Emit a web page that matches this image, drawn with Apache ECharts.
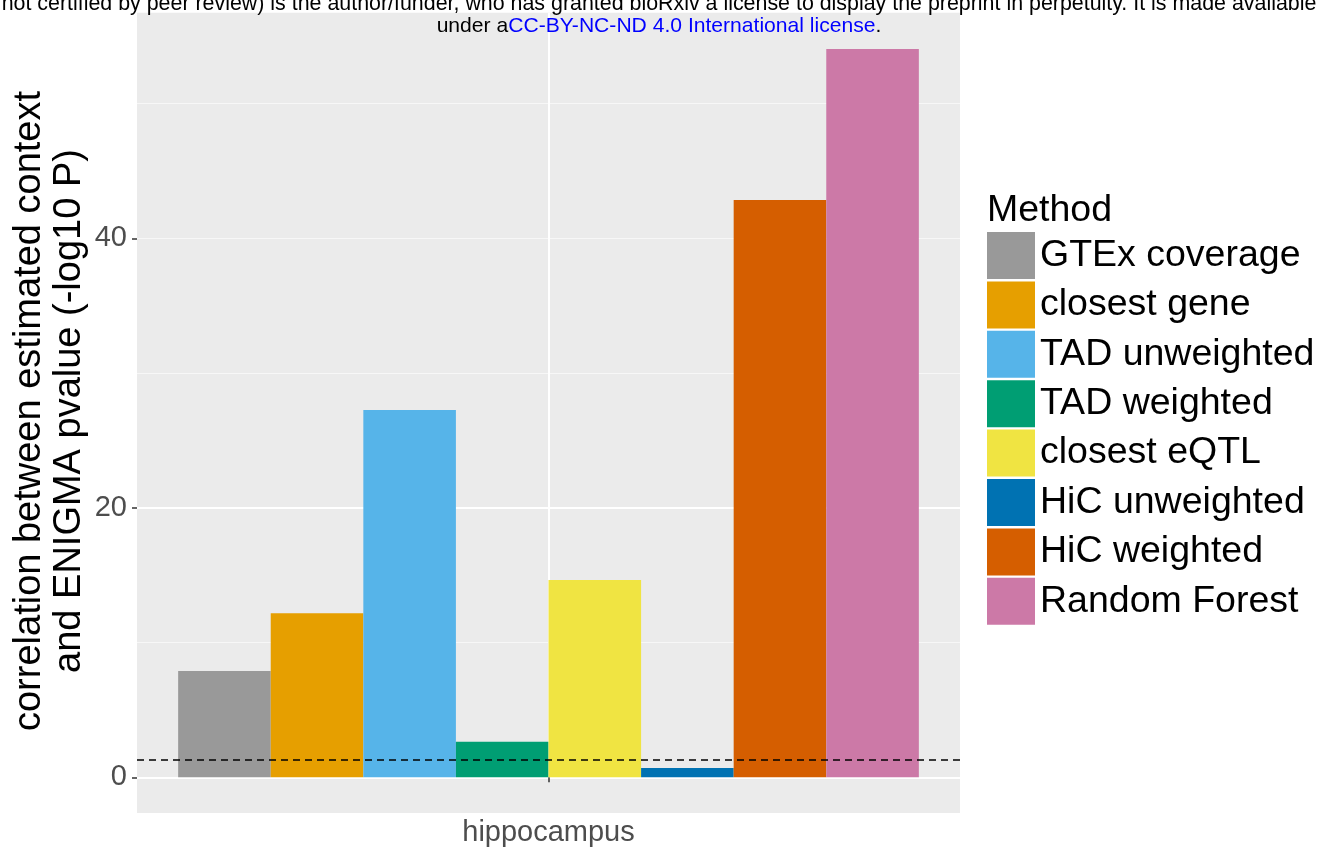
<!DOCTYPE html>
<html>
<head>
<meta charset="utf-8">
<script src="https://cdn.jsdelivr.net/npm/echarts@6/dist/echarts.min.js"></script>
<style>
  html, body { margin: 0; padding: 0; background: #fff; }
  #chart { width: 1326px; height: 852px; }
</style>
</head>
<body>
<div id="chart"></div>
<script>
// data (-log10 P)
var categories = ['hippocampus'];
var methods = ['GTEx coverage', 'closest gene', 'TAD unweighted', 'TAD weighted',
               'closest eQTL', 'HiC unweighted', 'HiC weighted', 'Random Forest'];
var values = [7.89, 12.17, 27.26, 2.64, 14.64, 0.69, 42.84, 54.05];
var colors = ['#999999', '#E69F00', '#56B4E9', '#009E73',
              '#F0E442', '#0072B2', '#D55E00', '#CC79A7'];
var yTicks = [0, 20, 40];
var threshold = 1.301; // -log10(0.05)
var yMax = 56.74;

var font = '"Liberation Sans", Arial, Helvetica, sans-serif';

var series = methods.map(function (name, i) {
  var s = {
    name: name,
    type: 'bar',
    barGap: '0%',
    barCategoryGap: '10%',
    itemStyle: { color: colors[i] },
    data: [values[i]]
  };
  if (i === 0) {
    s.markLine = {
      silent: true,
      symbol: 'none',
      label: { show: false },
      lineStyle: { color: '#000', type: [7, 5], width: 1.5 },
      data: [{ yAxis: threshold }]
    };
  }
  return s;
});

var option = {
  animation: false,
  textStyle: { fontFamily: font },
  title: {
    text: 'Method',
    left: 987,
    top: 192,
    padding: 0,
    textStyle: { fontSize: 37.5, fontWeight: 'normal', color: '#000', fontFamily: font }
  },
  legend: {
    orient: 'vertical',
    left: 987,
    top: 232,
    padding: 0,
    icon: 'rect',
    itemWidth: 48,
    itemHeight: 47,
    itemGap: 2.4,
    textStyle: { fontSize: 37.5, color: '#000', fontFamily: font },
    data: methods
  },
  graphic: [
    {
      type: 'rect', z: -10, silent: true,
      shape: { x: 137, y: 12.7, width: 823, height: 800.3 },
      style: { fill: '#EBEBEB' }
    },
    {
      type: 'text', z: 100, silent: true, x: 659, y: 4,
      style: {
        text: 'not certified by peer review) is the author/funder, who has granted bioRxiv a license to display the preprint in perpetuity. It is made available',
        font: '21.4px ' + font, fill: '#000', align: 'center', verticalAlign: 'middle'
      }
    },
    {
      type: 'text', z: 100, silent: true, x: 659, y: 26.5,
      style: {
        text: '{a|under a}{b|CC-BY-NC-ND 4.0 International license}{a|.}',
        align: 'center', verticalAlign: 'middle',
        rich: {
          a: { fontSize: 21.1, fontFamily: font, fill: '#000' },
          b: { fontSize: 21.1, fontFamily: font, fill: '#0000FF' }
        }
      }
    }
  ],
  grid: {
    left: 137,
    right: 366,
    top: 12.7,
    bottom: 74.7,
    outerBoundsMode: 'none',
    containLabel: false
  },
  xAxis: [
    {
      type: 'category',
      data: categories,
      offset: 36,
      axisLine: { show: false },
      axisTick: { show: true, alignWithLabel: true, length: 5, lineStyle: { color: '#333', width: 1.5 } },
      axisLabel: { fontSize: 29, color: '#4D4D4D', margin: 5, fontFamily: font },
      splitLine: { show: false }
    },
    {
      // gives the vertical white grid line at the category centre
      type: 'value',
      min: 0,
      max: 2,
      interval: 1,
      axisLine: { show: false },
      axisTick: { show: false },
      axisLabel: { show: false },
      splitLine: { show: true, showMinLine: false, showMaxLine: false, lineStyle: { color: '#fff', width: 2 } }
    }
  ],
  yAxis: [
    {
      // minor grid lines
      type: 'value',
      position: 'left',
      min: 0,
      max: yMax,
      interval: 10,
      axisLine: { show: false },
      axisTick: { show: false },
      axisLabel: { show: false },
      splitLine: { show: true, showMaxLine: false, lineStyle: { color: '#F7F7F7', width: 1 } }
    },
    {
      // major grid lines, ticks, labels
      type: 'value',
      position: 'left',
      offset: 0,
      min: 0,
      max: yMax,
      interval: 20,
      axisLine: { show: false },
      axisTick: { show: true, length: 5, customValues: yTicks, lineStyle: { color: '#333', width: 1.5 } },
      axisLabel: { fontSize: 29, color: '#4D4D4D', margin: 10, customValues: yTicks, fontFamily: font },
      splitLine: { show: true, showMaxLine: false, lineStyle: { color: '#fff', width: 2 } },
      name: 'correlation between estimated context\nand ENIGMA pvalue (-log10 P)',
      nameLocation: 'middle',
      nameRotate: 90,
      nameGap: 47,
      nameMoveOverlap: false,
      nameTextStyle: { fontSize: 38, color: '#000', lineHeight: 40, fontFamily: font, padding: [0, 32, 0, 0] }
    }
  ],
  series: series
};

var chart = echarts.init(document.getElementById('chart'));
chart.setOption(option);
</script>
</body>
</html>
